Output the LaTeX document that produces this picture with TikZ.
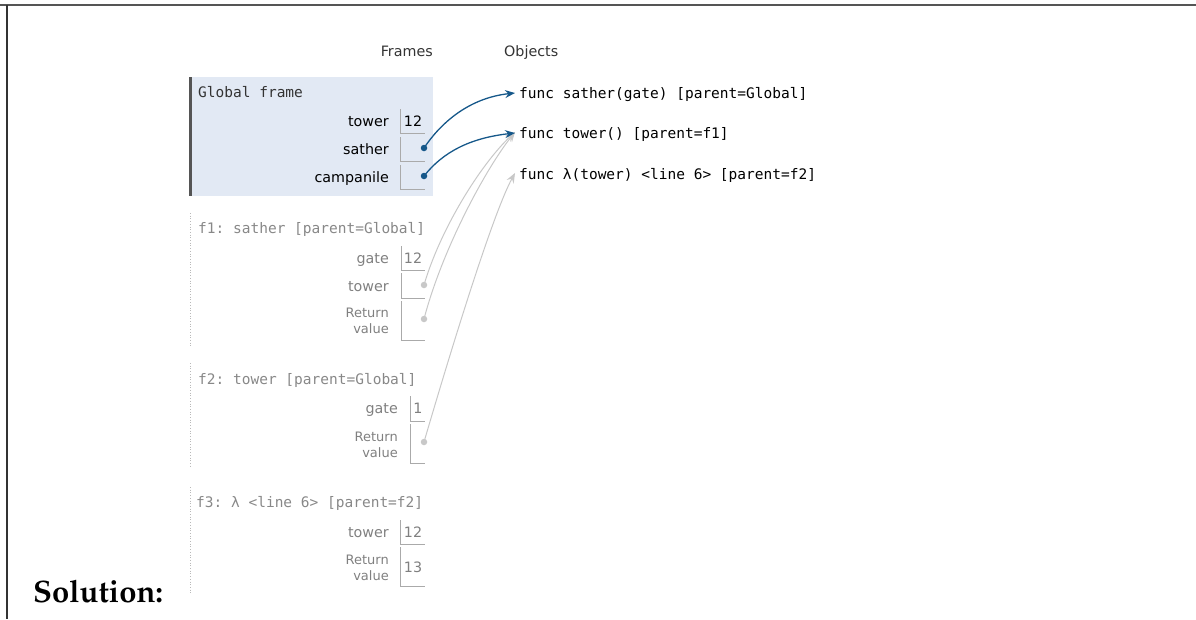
\documentclass[tikz,border=0pt]{standalone}
\usepackage{fontspec}
\newfontfamily\labfont{DejaVu Sans}
\newfontfamily\codefont{DejaVu Sans Mono}
\usetikzlibrary{arrows.meta}
\definecolor{fblue}{HTML}{E2E9F4}
\definecolor{ptr}{HTML}{16588A}
\definecolor{gptr}{HTML}{C8C8C8}
\definecolor{gtext}{HTML}{888888}
\definecolor{glab}{HTML}{808080}
\definecolor{boxline}{HTML}{AAAAAA}
\definecolor{dark}{HTML}{333333}
\definecolor{barc}{HTML}{555555}
\newcommand\valbox[3]{\draw[boxline,line width=0.9pt] (#1,#2) -- (#1,#3) -- (425,#3);}
\frenchspacing
\begin{document}
\frenchspacing
\begin{tikzpicture}[x=1pt,y=-1pt,
  lab/.style={font=\labfont\fontsize{14.3}{17}\selectfont, anchor=east, inner sep=0pt, text height=11pt, text depth=0pt},
  retlab/.style={font=\labfont\fontsize{13}{16}\selectfont, anchor=east, inner sep=0pt, align=right},
  val/.style={font=\labfont\fontsize{14.3}{17}\selectfont, inner sep=0pt, text height=11pt, text depth=0pt},
  hdr/.style={font=\codefont\fontsize{14.5}{17}\selectfont\frenchspacing, anchor=west, inner sep=0pt, text height=11pt, text depth=0pt},
  obj/.style={font=\codefont\fontsize{14.5}{17}\selectfont\frenchspacing, anchor=west, inner sep=0pt, text height=11pt, text depth=0pt, text=black},
  dotb/.style={circle, fill=ptr, inner sep=0pt, minimum size=6.5pt},
  dotg/.style={circle, fill=gptr, inner sep=0pt, minimum size=6.5pt},
  bluearrow/.style={draw=ptr, line width=1.3pt, -{Stealth[length=10pt,width=8pt,inset=3.5pt]}},
  grayarrow/.style={draw=gptr, line width=1pt, -{Stealth[length=10pt,width=8pt,inset=3.5pt]}},
  fline/.style={draw=gray!55, line width=0.7pt, dotted}
]
\useasboundingbox (0,0) rectangle (1196,619);
% page borders
\draw[barc, line width=1.4pt] (0,5) -- (1196,5);
\draw[dark, line width=1.4pt] (7,5) -- (7,619);

% headings
\node[font=\labfont\fontsize{14.3}{17}\selectfont, text=dark, anchor=east, inner sep=0pt, text height=11pt, text depth=0pt] (hframes) at (433,51) {Frames};
\node[font=\labfont\fontsize{14.3}{17}\selectfont, text=dark, anchor=west, inner sep=0pt, text height=11pt, text depth=0pt] (hobjects) at (504,51) {Objects};

% Global frame
\fill[fblue] (189,77) rectangle (433,196);
\fill[barc] (188.5,77) rectangle (191.5,196);
\node[hdr, text=dark] (gf) at (198,92) {Global frame};
\node[lab, text=black] (gtower) at (389,121) {tower};
\node[lab, text=black] (gsather) at (389,149) {sather};
\node[lab, text=black] (gcamp) at (389,177) {campanile};
\valbox{400}{109}{133}
\valbox{400}{137}{161}
\valbox{400}{165}{189}
\node[val, text=black] (gv1) at (413,121) {12};
\node[dotb] (d1) at (424,148) {};
\node[dotb] (d2) at (424,176) {};

% f1
\draw[fline] (190,213) -- (190,347);
\node[hdr, text=gtext] (f1h) at (198,228) {f1: sather [parent=Global]};
\node[lab, text=glab] (f1gate) at (389,258) {gate};
\node[lab, text=glab] (f1tower) at (389,286) {tower};
\node[retlab, text=glab] (f1ret) at (389,321) {Return\\value};
\valbox{401}{246}{270}
\valbox{401}{273}{298}
\valbox{401}{301}{340}
\node[val, text=glab] (f1v1) at (413,258) {12};
\node[dotg] (d3) at (424,285) {};
\node[dotg] (d4) at (424,319) {};

% f2
\draw[fline] (190,363) -- (190,468);
\node[hdr, text=gtext] (f2h) at (198,379) {f2: tower [parent=Global]};
\node[lab, text=glab] (f2gate) at (398,408) {gate};
\node[retlab, text=glab] (f2ret) at (398,444.5) {Return\\value};
\valbox{410}{396}{421}
\valbox{410}{424}{463}
\node[val, text=glab] (f2v1) at (418,408) {1};
\node[dotg] (d5) at (424,442) {};

% f3
\draw[fline] (190,487) -- (190,593);
\node[hdr, text=gtext] (f3h) at (196,502) {f3: λ <line 6> [parent=f2]};
\node[lab, text=glab] (f3tower) at (389,532) {tower};
\node[retlab, text=glab] (f3ret) at (389,568) {Return\\value};
\valbox{400}{520}{544}
\valbox{400}{547}{586}
\node[val, text=glab] (f3v1) at (413,532) {12};
\node[val, text=glab] (f3v2) at (413,567) {13};

% objects
\node[obj] (o1) at (519,93) {func sather(gate) [parent=Global]};
\node[obj] (o2) at (519,133) {func tower() [parent=f1]};
\node[obj] (o3) at (519,174) {func λ(tower) <line 6> [parent=f2]};

% gray pointers
\draw[grayarrow] (d3.center) .. controls (440,230) and (480,165) .. ([xshift=-4pt,yshift=1pt]o2.west);
\draw[grayarrow] (d4.center) .. controls (442,250) and (485,170) .. ([xshift=-4pt,yshift=1pt]o2.west);
\draw[grayarrow] (d5.center) .. controls (448,360) and (492,215) .. ([xshift=-4pt,yshift=1pt]o3.west);
% blue pointers
\draw[bluearrow] (d1.center) .. controls (440,124) and (468,98) .. ([xshift=-4pt]o1.west);
\draw[bluearrow] (d2.center) .. controls (443,152) and (470,138) .. ([xshift=-4pt]o2.west);

% Solution
\node[font=\fontencoding{T1}\fontfamily{ppl}\fontseries{b}\fontsize{31}{36}\selectfont, anchor=base west, inner sep=0pt] (sol) at (33,602) {Solution:};
\end{tikzpicture}
\end{document}
